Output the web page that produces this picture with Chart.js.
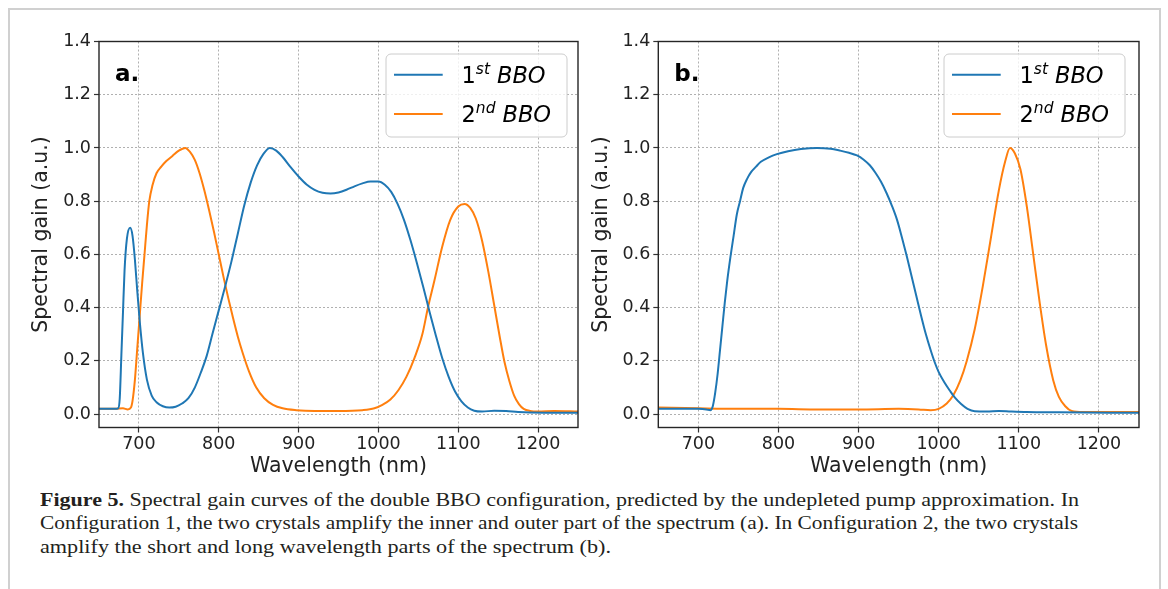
<!DOCTYPE html>
<html><head><meta charset="utf-8">
<script src="https://cdn.jsdelivr.net/npm/chart.js@4.4.0/dist/chart.umd.min.js"></script>
<style>
html,body{margin:0;padding:0;background:#fff;width:1168px;height:589px;overflow:hidden;}
#frame{position:absolute;left:8px;top:8px;width:1153px;height:620px;border:2px solid #d0d0d0;box-sizing:border-box;}
canvas{position:absolute;top:0;}
#caption{position:absolute;left:40px;top:487.5px;font-family:'Liberation Serif',serif;font-size:19.5px;line-height:23.5px;color:#231f20;}
#caption .ln{display:block;width:max-content;white-space:nowrap;transform-origin:0 0;}
</style></head>
<body>
<div id="frame"></div>
<canvas id="ca" width="600" height="480" style="left:0px"></canvas>
<canvas id="cb" width="600" height="480" style="left:560px"></canvas>
<div id="caption">
<span class="ln"><b>Figure 5.</b> Spectral gain curves of the double BBO configuration, predicted by the undepleted pump approximation. In</span>
<span class="ln">Configuration 1, the two crystals amplify the inner and outer part of the spectrum (a). In Configuration 2, the two crystals</span>
<span class="ln">amplify the short and long wavelength parts of the spectrum (b).</span>
</div>
<script>
// ---- data ----
const xTicks = [700, 800, 900, 1000, 1100, 1200];
const yTicks = [0.0, 0.2, 0.4, 0.6, 0.8, 1.0, 1.2, 1.4];
const seriesLabels = ['1st BBO', '2nd BBO'];
const legendBase = ['1', '2'];
const legendSup = ['st', 'nd'];
const legendRest = 'BBO';
const panelLabels = ['a.', 'b.'];

// panel a, 1st BBO
const aBlueX = [650,660,670,674,676,678,680,682,685,689,692,695,698,701,705,710,716,722,730,738,746,754,762,770,778,785,792,800,808,816,824,832,840,848,856,864,872,880,890,900,910,920,930,940,950,960,970,980,990,1000,1008,1016,1024,1032,1040,1048,1056,1064,1072,1080,1088,1096,1104,1112,1120,1130,1145,1160,1175,1190,1250];
const aBlueY = [0.02,0.02,0.02,0.022,0.06,0.22,0.38,0.54,0.66,0.70,0.67,0.58,0.46,0.35,0.23,0.13,0.07,0.045,0.03,0.025,0.028,0.04,0.06,0.1,0.16,0.22,0.30,0.39,0.48,0.575,0.68,0.785,0.87,0.935,0.978,1.0,0.99,0.966,0.928,0.893,0.863,0.843,0.832,0.829,0.833,0.843,0.856,0.867,0.874,0.874,0.862,0.835,0.79,0.73,0.655,0.57,0.48,0.385,0.295,0.21,0.14,0.085,0.048,0.025,0.013,0.01,0.013,0.012,0.008,0.006,0.005];
// panel a, 2nd BBO
const aOrangeX = [650,660,670,680,686,690,692,695,698,701,704,707,710,713,717,722,728,734,742,750,758,764,770,776,782,788,794,800,806,812,818,824,830,838,847,857,868,880,897,920,950,980,995,1005,1015,1025,1035,1045,1055,1062,1070,1080,1090,1100,1108,1115,1122,1130,1138,1145,1152,1158,1164,1170,1176,1182,1190,1200,1220,1250];
const aOrangeY = [0.02,0.02,0.02,0.022,0.018,0.025,0.05,0.13,0.25,0.37,0.49,0.60,0.71,0.80,0.86,0.905,0.93,0.95,0.97,0.99,1.0,0.985,0.955,0.905,0.84,0.765,0.685,0.60,0.515,0.435,0.36,0.29,0.23,0.16,0.10,0.06,0.035,0.022,0.015,0.012,0.012,0.015,0.022,0.035,0.055,0.09,0.14,0.21,0.30,0.40,0.50,0.63,0.73,0.78,0.79,0.775,0.735,0.65,0.53,0.41,0.29,0.195,0.125,0.07,0.038,0.02,0.012,0.01,0.012,0.01];
// panel b, 1st BBO
const bBlueX = [650,680,700,710,715,718,721,724,727,730,733,736,740,744,748,752,756,761,766,772,778,788,798,812,828,848,865,877,888,898,906,914,921,928,935,942,948,954,960,966,972,978,984,990,995,1000,1007,1014,1020,1028,1036,1045,1060,1075,1090,1110,1150,1250];
const bBlueY = [0.02,0.02,0.02,0.018,0.015,0.03,0.08,0.15,0.24,0.33,0.42,0.50,0.59,0.67,0.75,0.80,0.85,0.885,0.91,0.93,0.948,0.965,0.977,0.988,0.996,1.0,0.997,0.99,0.982,0.972,0.957,0.935,0.907,0.873,0.83,0.78,0.73,0.665,0.595,0.52,0.445,0.37,0.30,0.24,0.195,0.158,0.12,0.088,0.063,0.038,0.02,0.011,0.01,0.012,0.01,0.008,0.007,0.005];
// panel b, 2nd BBO
const bOrangeX = [650,700,750,800,850,900,950,975,990,1000,1010,1018,1027,1035,1045,1055,1065,1075,1083,1089,1095,1102,1110,1118,1126,1134,1143,1150,1158,1166,1180,1250];
const bOrangeY = [0.025,0.022,0.02,0.02,0.018,0.018,0.02,0.018,0.015,0.02,0.04,0.07,0.127,0.2,0.32,0.48,0.66,0.84,0.95,1.0,0.98,0.92,0.78,0.6,0.42,0.26,0.127,0.065,0.03,0.012,0.008,0.008];

const BLUE = '#1f77b4', ORANGE = '#ff7f0e';
Chart.defaults.font.family = "'DejaVu Sans', sans-serif";

const decor = {
  id: 'decor',
  afterDatasetsDraw(chart, args, opts) {
    const {ctx, chartArea: a} = chart;
    ctx.save();
    ctx.strokeStyle = '#262626'; ctx.lineWidth = 1.4;
    ctx.strokeRect(a.left, a.top, a.right - a.left, a.bottom - a.top);
    ctx.fillStyle = '#000';
    ctx.font = "bold 23px 'DejaVu Sans'";
    ctx.textAlign = 'left'; ctx.textBaseline = 'alphabetic';
    ctx.fillText(opts.panel, a.left + 16, a.top + 39);
    const bw = 181, bh = 83;
    const bx = a.right - opts.legendMargin - bw, by = a.top + 12.5;
    ctx.beginPath(); ctx.roundRect(bx, by, bw, bh, 5);
    ctx.fillStyle = 'rgba(255,255,255,0.8)'; ctx.fill();
    ctx.strokeStyle = '#cccccc'; ctx.lineWidth = 1; ctx.stroke();
    chart.data.datasets.forEach((ds, i) => {
      const ly = by + 20.7 + i * 39.3;
      ctx.strokeStyle = ds.borderColor; ctx.lineWidth = 2;
      ctx.beginPath(); ctx.moveTo(bx + 8, ly); ctx.lineTo(bx + 56.7, ly); ctx.stroke();
      let tx = bx + 75.5; const base = ly + 7.8;
      ctx.fillStyle = '#000';
      ctx.font = "22.5px 'DejaVu Sans'";
      ctx.fillText(legendBase[i], tx, base); tx += ctx.measureText(legendBase[i]).width;
      ctx.font = "italic 15.5px 'DejaVu Sans'";
      ctx.fillText(legendSup[i], tx, base - 8.5); tx += ctx.measureText(legendSup[i]).width;
      ctx.font = "italic 22.5px 'DejaVu Sans'";
      tx += 7;
      ctx.fillText(legendRest, tx, base);
    });
    ctx.restore();
  }
};

function makeChart(id, blueX, blueY, orX, orY, panel, yAxisWidth, rightPad, legendMargin) {
  return new Chart(document.getElementById(id), {
    type: 'line',
    data: {datasets: [
      {label: seriesLabels[0], data: blueX.map((x, i) => ({x, y: blueY[i]})), borderColor: BLUE, borderWidth: 2, pointRadius: 0, cubicInterpolationMode: 'monotone', fill: false},
      {label: seriesLabels[1], data: orX.map((x, i) => ({x, y: orY[i]})), borderColor: ORANGE, borderWidth: 2, pointRadius: 0, cubicInterpolationMode: 'monotone', fill: false}
    ]},
    options: {
      responsive: false, animation: false, events: [],
      layout: {padding: {left: 0, right: rightPad, top: 41.5, bottom: 0}},
      plugins: {legend: {display: false}, tooltip: {enabled: false}, decor: {panel, legendMargin}},
      scales: {
        x: {
          type: 'linear', min: 650, max: 1250,
          afterBuildTicks: s => { s.ticks = xTicks.map(v => ({value: v})); },
          afterFit: s => { s.height = 52.5; },
          ticks: {color: '#222', font: {size: 17.5}, padding: 1, maxRotation: 0, autoSkip: false, callback: v => String(v)},
          grid: {color: '#b0b0b0', lineWidth: 1, tickLength: 5, tickColor: '#333', tickWidth: 1.2},
          border: {display: false, dash: [2, 2]},
          title: {display: true, text: 'Wavelength (nm)', color: '#222', font: {size: 20.5}, padding: {top: 0, bottom: 1}}
        },
        y: {
          type: 'linear', min: -0.05, max: 1.4,
          afterBuildTicks: s => { s.ticks = yTicks.map(v => ({value: v})); },
          afterFit: s => { s.width = yAxisWidth; },
          ticks: {color: '#222', font: {size: 17.5}, padding: 3, autoSkip: false, callback: v => Number(v).toFixed(1)},
          grid: {color: '#b0b0b0', lineWidth: 1, tickLength: 5, tickColor: '#333', tickWidth: 1.2},
          border: {display: false, dash: [2, 2]},
          title: {display: true, text: 'Spectral gain (a.u.)', color: '#222', font: {size: 20.5}, padding: {top: 29.7, bottom: 0}}
        }
      }
    },
    plugins: [decor]
  });
}

makeChart('ca', aBlueX, aBlueY, aOrangeX, aOrangeY, panelLabels[0], 99, 22, 11);
makeChart('cb', bBlueX, bBlueY, bOrangeX, bOrangeY, panelLabels[1], 98.3, 21, 14);

const capTargets = [1039, 1038, 571];
document.querySelectorAll('#caption .ln').forEach((el, i) => {
  const w = el.getBoundingClientRect().width;
  el.style.transform = 'scaleX(' + (capTargets[i] / w) + ')';
});
</script>
</body></html>
